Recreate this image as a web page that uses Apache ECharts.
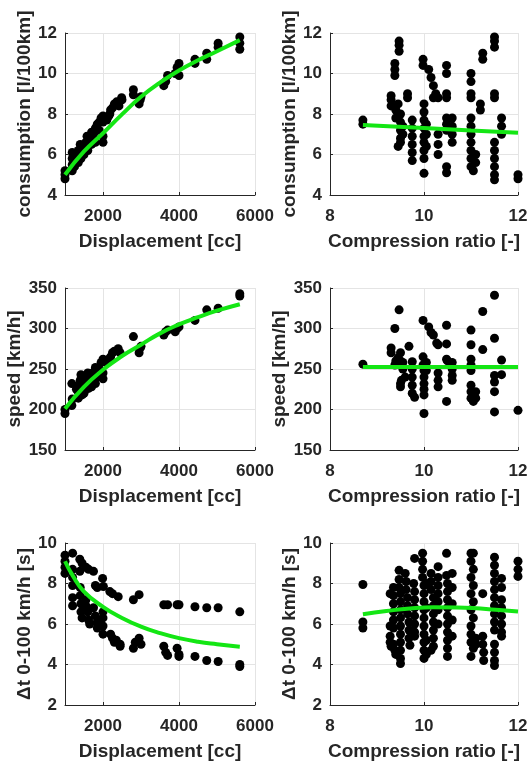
<!DOCTYPE html>
<html>
<head>
<meta charset="utf-8">
<script src="https://cdn.jsdelivr.net/npm/echarts@6/dist/echarts.min.js"></script>
<style>
html,body{margin:0;padding:0;background:#fff;}
#chart{width:530px;height:766px;}
</style>
</head>
<body>
<div id="chart"></div>
<script>
// ---------- data ----------
const xTitles = ['Displacement [cc]', 'Compression ratio [-]'];
const yTitles = ['consumption [l/100km]', 'speed [km/h]', '\u0394t 0-100 km/h [s]'];
const dispTicks = [2000, 4000, 6000];

const dispCons = [
[1000,4.8],[1000,5.0],[1000,5.2],
[1190,5.2],[1190,5.5],[1190,5.8],[1190,6.1],[1250,5.4],[1300,5.7],
[1350,5.6],[1350,5.9],[1350,6.2],[1400,6.5],[1420,5.8],[1400,6.0],[1450,6.3],
[1500,6.0],[1500,6.3],[1550,6.6],[1580,6.9],[1600,6.2],[1600,6.5],[1650,6.8],
[1700,6.5],[1700,6.8],[1700,7.1],[1750,7.0],[1800,7.3],[1800,6.6],[1850,7.5],
[1900,7.2],[1900,7.6],[1950,7.8],[2000,6.6],[2000,6.9],[2000,7.9],[2000,7.6],
[2100,7.7],[2150,7.9],[2180,8.0],[2200,8.2],[2250,8.3],[2300,8.5],
[2360,8.6],[2420,8.4],[2490,8.8],[2500,8.7],
[2800,9.2],[2800,8.95],
[2950,8.5],[2980,8.7],[3000,8.85],
[3600,9.4],[3650,9.6],[3700,9.9],[3600,9.5],
[3900,10.0],[3950,10.3],[4000,10.5],[4000,9.9],
[4420,10.7],[4420,10.5],
[4730,11.0],[4730,10.7],
[5030,11.5],[5030,11.3],
[5600,11.8],[5600,11.5],[5600,11.2]
];
const fitDispCons = [[1000,5.0],[1500,6.15],[2000,7.05],[2500,7.98],[3000,8.85],[3500,9.55],[4000,10.15],[4500,10.65],[5000,11.1],[5600,11.65]];

const crCons = [
[8.7,7.5],[8.7,7.7],
[9.3,8.4],[9.3,8.7],[9.3,8.9],
[9.38,9.9],[9.38,10.2],[9.38,10.5],
[9.4,8.2],[9.4,7.8],
[9.47,11.1],[9.47,11.4],[9.47,11.6],
[9.45,8.5],[9.5,8.0],[9.5,7.6],[9.5,7.2],[9.5,6.8],[9.45,6.4],[9.5,6.6],
[9.55,7.0],[9.55,7.4],
[9.65,8.8],[9.65,9.0],
[9.75,7.7],[9.75,7.3],[9.75,6.9],[9.75,6.5],[9.75,6.1],[9.75,5.7],
[9.98,10.4],[9.98,10.7],[10.0,8.5],[10.0,8.1],[10.0,7.7],[10.0,7.3],[10.0,6.9],[10.0,6.6],[10.0,6.2],[10.0,5.8],[10.0,5.07],
[10.05,7.5],[10.05,7.0],[10.05,6.4],
[10.1,10.2],[10.15,9.8],[10.2,9.4],[10.2,8.8],[10.25,9.0],
[10.3,6.0],[10.3,6.5],[10.3,7.0],[10.3,8.8],
[10.48,10.0],[10.48,10.4],[10.48,8.8],[10.48,9.0],[10.48,7.8],[10.48,7.5],[10.48,7.2],[10.48,5.1],[10.48,5.4],
[10.6,7.8],[10.6,7.4],[10.6,7.0],[10.6,6.6],
[11.0,9.6],[11.0,10.0],[11.0,9.0],[11.0,8.8],[11.0,7.8],[11.0,7.4],[11.0,7.0],[11.0,6.6],[11.0,6.2],[11.0,5.8],[11.0,5.4],[11.05,5.2],
[11.1,6.0],[11.1,5.6],
[11.25,10.7],[11.25,11.0],[11.2,8.2],[11.2,8.5],
[11.5,11.3],[11.5,11.6],[11.5,11.8],[11.5,8.8],[11.5,9.0],[11.5,6.6],[11.5,6.2],[11.5,5.8],[11.5,5.4],[11.5,5.0],[11.5,4.75],
[11.65,7.8],[11.65,7.4],[11.65,7.0],
[12.0,5.0],[12.0,4.8]
];
const fitCrCons = [[8.7,7.46],[10,7.31],[11,7.19],[12,7.08]];

const dispSpeed = [
[1000,195],[1000,200],
[1180,205],[1190,213],[1180,232],[1300,225],
[1350,214],[1350,222],[1380,230],[1400,236],[1420,243],[1450,218],
[1500,220],[1520,228],[1550,235],[1580,240],[1600,245],[1620,226],[1650,238],
[1700,228],[1720,236],[1750,246],[1800,252],[1800,232],[1850,240],
[1900,245],[1900,250],[1950,258],[2000,262],[2000,238],[2000,245],
[2100,258],[2150,262],[2200,265],[2250,270],[2300,272],[2400,275],[2450,270],
[2800,290],[2950,270],[2980,276],[3000,278],
[3600,292],[3650,296],[3700,298],
[3900,296],[3950,300],[4000,302],
[4420,310],
[4730,323],
[5030,325],
[5600,340],[5600,343]
];
const fitDispSpeed = [[1000,201],[1500,228],[2000,249],[2500,266],[3000,280],[3500,294],[4000,305],[4500,314],[5000,322],[5600,330]];

const crSpeed = [
[8.7,256],
[9.3,270],[9.3,276],
[9.38,300],[9.38,255],[9.4,260],
[9.47,323],[9.45,264],[9.5,270],[9.5,260],[9.5,232],[9.5,228],[9.52,236],
[9.55,250],[9.55,258],[9.6,240],
[9.68,278],
[9.75,259],[9.75,250],[9.75,240],[9.75,230],[9.75,220],[9.8,215],
[9.98,310],[9.98,265],[9.98,255],[10.0,248],[10.0,240],[10.0,232],[10.0,225],[10.0,218],[10.0,195],[10.05,258],[10.05,248],
[10.1,302],[10.15,295],[10.2,292],
[10.27,282],[10.3,280],[10.3,245],[10.3,236],[10.3,228],
[10.48,304],[10.48,281],[10.48,262],[10.5,260],[10.48,210],
[10.6,258],[10.6,250],[10.6,242],[10.6,236],
[11.0,298],[11.0,280],[11.0,262],[11.0,255],[11.0,248],[11.0,230],[11.0,222],[11.0,214],[11.05,210],[11.1,214],[11.1,222],
[11.25,321],[11.25,274],
[11.5,341],[11.5,288],[11.5,242],[11.5,234],[11.5,222],[11.5,197],
[11.65,261],[11.65,243],
[12.0,199]
];
const fitCrSpeed = [[8.7,252.5],[10,252.5],[11,252.5],[12,252.5]];

const dispAccel = [
[1000,9.4],[1000,9.1],[1000,8.8],[1000,8.5],
[1200,9.5],[1200,8.7],[1200,8.3],[1200,7.9],[1200,7.3],[1200,6.9],
[1390,9.2],[1450,9.0],[1390,8.6],[1400,7.8],[1400,7.4],[1420,7.0],[1420,6.6],[1450,6.3],
[1550,8.8],[1620,8.7],[1550,7.2],[1550,6.9],[1600,6.6],[1620,6.2],[1650,6.0],
[1750,8.6],[1800,7.9],[1850,7.8],[1750,6.8],[1800,6.4],[1850,6.1],[1850,5.8],
[1990,8.25],[2010,7.85],[2000,6.6],[2000,6.3],[2000,5.9],[2000,5.5],
[2180,7.6],[2250,7.5],[2400,7.35],[2200,5.5],[2250,5.3],[2300,5.1],[2350,5.2],[2450,5.0],[2450,4.9],
[2800,7.2],[2950,7.45],[2800,4.8],[2850,5.1],[2950,5.3],[3000,5.0],
[3600,6.95],[3700,6.95],[3600,4.9],[3650,4.6],[3700,4.45],
[3950,6.95],[4000,6.95],[3950,4.8],[4000,4.5],[4000,4.4],
[4420,6.85],[4420,4.4],
[4730,6.8],[4730,4.2],
[5030,6.8],[5030,4.15],
[5600,6.6],[5600,4.0],[5600,3.9]
];
const fitDispAccel = [[1000,9.1],[1200,8.4],[1500,7.6],[2000,6.85],[2500,6.3],[3000,5.87],[3500,5.55],[4000,5.3],[4500,5.12],[5000,5.0],[5600,4.88]];

const crAccel = [
[8.7,7.95],[8.7,6.1],[8.7,5.8],
[9.28,7.5],[9.28,5.9],[9.28,5.4],[9.28,5.1],[9.3,4.9],
[9.35,7.8],[9.35,7.4],[9.35,7.0],[9.35,6.6],[9.35,6.2],[9.35,5.8],[9.35,5.0],[9.38,4.7],[9.4,4.5],
[9.47,8.65],[9.47,8.2],[9.47,7.8],[9.5,7.5],[9.5,7.1],[9.5,6.7],[9.5,6.3],[9.5,5.9],[9.5,5.5],[9.5,5.1],[9.5,4.7],[9.5,4.3],[9.5,4.05],
[9.6,8.5],[9.62,8.1],[9.62,7.7],[9.65,7.3],[9.65,6.9],[9.65,6.5],[9.68,6.1],[9.68,5.7],[9.68,5.3],[9.7,4.95],
[9.8,9.24],[9.78,8.0],[9.8,7.6],[9.8,7.2],[9.8,6.8],[9.8,6.4],[9.8,6.0],[9.8,5.6],[9.8,5.4],
[9.97,9.5],[9.97,9.1],[9.97,8.7],[9.97,8.3],[10.0,7.9],[10.0,7.5],[10.0,7.1],[10.0,6.7],[10.0,6.3],[10.0,5.9],[10.0,5.5],[10.0,5.1],[10.0,4.7],[10.0,4.3],[10.05,8.0],[10.05,6.8],[10.05,5.2],[10.05,4.5],
[10.15,8.5],[10.15,8.1],[10.15,7.7],[10.2,7.3],[10.2,6.9],[10.2,6.5],[10.2,6.1],[10.2,5.7],[10.2,5.3],[10.2,4.9],[10.15,4.7],
[10.3,8.83],[10.3,8.3],[10.3,7.9],[10.3,7.5],[10.3,7.1],[10.3,6.7],[10.3,6.0],
[10.48,9.49],[10.48,8.4],[10.5,8.0],[10.5,7.6],[10.5,7.2],[10.5,6.8],[10.5,6.4],[10.5,6.0],[10.5,5.6],[10.5,5.2],[10.5,4.8],[10.5,4.4],[10.6,8.5],[10.6,7.8],[10.6,7.0],[10.6,6.2],[10.6,5.4],
[11.0,9.5],[11.05,9.5],[11.0,9.1],[11.05,8.7],[11.0,8.3],[11.05,7.9],[11.0,7.5],[11.05,7.1],[11.0,6.7],[11.05,6.3],[11.0,5.9],[11.0,5.5],[11.0,5.1],[11.05,4.8],[11.0,4.4],[11.1,5.0],[11.1,5.3],
[11.25,7.5],[11.25,5.4],[11.25,5.0],[11.27,4.6],[11.27,4.2],
[11.5,9.3],[11.5,8.9],[11.5,8.5],[11.5,8.1],[11.5,7.7],[11.5,7.3],[11.5,6.9],[11.5,6.5],[11.5,6.1],[11.5,5.7],[11.5,5.0],[11.5,4.6],[11.5,4.2],[11.5,3.95],
[11.65,8.25],[11.65,7.8],[11.65,7.2],[11.65,6.8],[11.65,6.4],[11.65,6.0],[11.65,5.6],[11.65,5.4],
[12.0,9.1],[12.0,8.7],[12.0,8.35]
];
const fitCrAccel = [[8.7,6.48],[9.2,6.64],[9.7,6.77],[10.2,6.83],[10.7,6.82],[11.2,6.76],[11.6,6.69],[12,6.62]];

// ---------- layout ----------
const panels = [
  {row:0, col:0, pts:dispCons,  fit:fitDispCons},
  {row:0, col:1, pts:crCons,    fit:fitCrCons},
  {row:1, col:0, pts:dispSpeed, fit:fitDispSpeed},
  {row:1, col:1, pts:crSpeed,   fit:fitCrSpeed},
  {row:2, col:0, pts:dispAccel, fit:fitDispAccel},
  {row:2, col:1, pts:crAccel,   fit:fitCrAccel}
];
const yRanges = [[4,12,2],[150,350,50],[2,10,2]];
const colLeft = [65, 330];
const colWidth = [190, 188];
const rowTop = [33, 288, 543];
const plotH = 162;

const FONT = '"Liberation Sans", Arial, Helvetica, sans-serif';
const TXT = '#262626';
const GRIDC = '#e4e4e4';
const plain = v => String(v);

const grid = [], xAxis = [], yAxis = [], series = [];
panels.forEach((p, i) => {
  grid.push({left: colLeft[p.col], top: rowTop[p.row], width: colWidth[p.col], height: plotH,
             containLabel: false, outerBoundsMode: 'none'});
  const isDisp = p.col === 0;
  const xa = {
    type: 'value', gridIndex: i,
    min: isDisp ? 1000 : 8, max: isDisp ? 6000 : 12, interval: isDisp ? 1000 : 2,
    name: xTitles[p.col], nameLocation: 'middle', nameGap: 37,
    nameTextStyle: {fontSize: 19, fontWeight: 'bold', color: TXT, fontFamily: FONT},
    axisLine: {show: true, onZero: false, lineStyle: {color: TXT, width: 1}},
    axisTick: {show: true, inside: true, length: 3, lineStyle: {color: TXT}},
    axisLabel: {fontSize: 17, fontWeight: 'bold', color: TXT, fontFamily: FONT, margin: 13,
                showMinLabel: true, showMaxLabel: true, formatter: plain},
    splitLine: {show: true, lineStyle: {color: GRIDC, width: 1}}
  };
  if (isDisp) {
    xa.axisTick.customValues = dispTicks;
    xa.axisLabel.customValues = dispTicks;
  }
  xAxis.push(xa);
  const yr = yRanges[p.row];
  yAxis.push({
    type: 'value', gridIndex: i, min: yr[0], max: yr[1], interval: yr[2],
    name: yTitles[p.row], nameLocation: 'middle', nameGap: 31, nameRotate: 90,
    nameTextStyle: {fontSize: 19, fontWeight: 'bold', color: TXT, fontFamily: FONT},
    axisLine: {show: true, onZero: false, lineStyle: {color: TXT, width: 1}},
    axisTick: {show: true, inside: true, length: 3, lineStyle: {color: TXT}},
    axisLabel: {fontSize: 17, fontWeight: 'bold', color: TXT, fontFamily: FONT, margin: 8,
                showMinLabel: true, showMaxLabel: true, formatter: plain},
    splitLine: {show: true, lineStyle: {color: GRIDC, width: 1}}
  });
  series.push({
    type: 'scatter', xAxisIndex: i, yAxisIndex: i, data: p.pts,
    symbol: 'circle', symbolSize: 9, itemStyle: {color: '#000', opacity: 1}, z: 2, silent: true
  });
  series.push({
    type: 'line', xAxisIndex: i, yAxisIndex: i, data: p.fit, smooth: true,
    showSymbol: false, symbol: 'none', lineStyle: {color: '#14e614', width: 4}, z: 3, silent: true
  });
});

const chart = echarts.init(document.getElementById('chart'), null, {renderer: 'canvas'});
chart.setOption({
  animation: false,
  backgroundColor: '#fff',
  textStyle: {fontFamily: FONT},
  grid, xAxis, yAxis, series
});
</script>
</body>
</html>
